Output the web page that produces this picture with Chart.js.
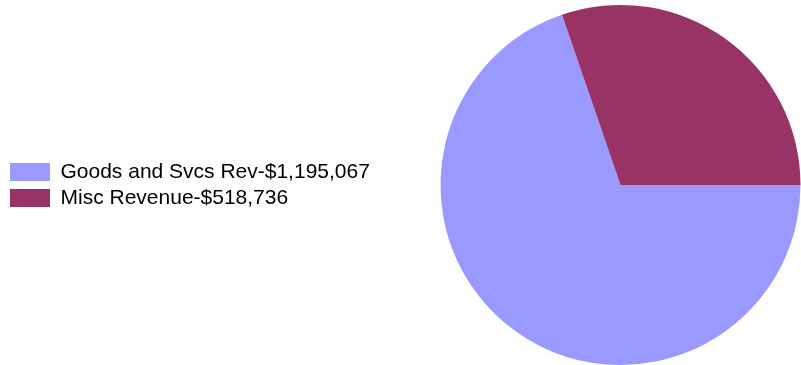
<!DOCTYPE html>
<html>
<head>
<meta charset="utf-8">
<script src="https://cdn.jsdelivr.net/npm/chart.js@4/dist/chart.umd.min.js"></script>
<style>
  html, body { margin: 0; padding: 0; background: #fff; overflow: hidden; }
  #wrap { position: relative; width: 801px; height: 365px; }
</style>
</head>
<body>
<div id="wrap"><canvas id="c" width="801" height="365"></canvas></div>
<script>
const categories = ["Goods and Svcs Rev", "Misc Revenue"];
const values = [1195067, 518736];
const colors = ["#9999FF", "#993366"];

const labels = categories.map((c, i) => c + "-$" + values[i].toLocaleString("en-US"));

const legendWidthPlugin = {
  id: "legendWidth",
  beforeLayout(chart) {
    const lg = chart.legend;
    if (lg && !lg._patched) {
      const orig = lg.fit.bind(lg);
      lg.fit = function () { orig(); this.width = 435; };
      lg._patched = true;
    }
  }
};

new Chart(document.getElementById("c"), {
  type: "pie",
  data: {
    labels: labels,
    datasets: [{
      data: values,
      backgroundColor: colors,
      borderWidth: 0
    }]
  },
  options: {
    responsive: false,
    animation: false,
    rotation: 90,
    layout: { padding: { left: 5, top: 5, right: 0, bottom: 0 } },
    plugins: {
      tooltip: { enabled: false },
      legend: {
        position: "left",
        align: "center",
        labels: {
          boxWidth: 40,
          boxHeight: 18,
          padding: 5,
          color: "#000",
          font: { family: "'Liberation Sans', Arial, sans-serif", size: 21 }
        }
      }
    }
  },
  plugins: [legendWidthPlugin]
});
</script>
</body>
</html>
